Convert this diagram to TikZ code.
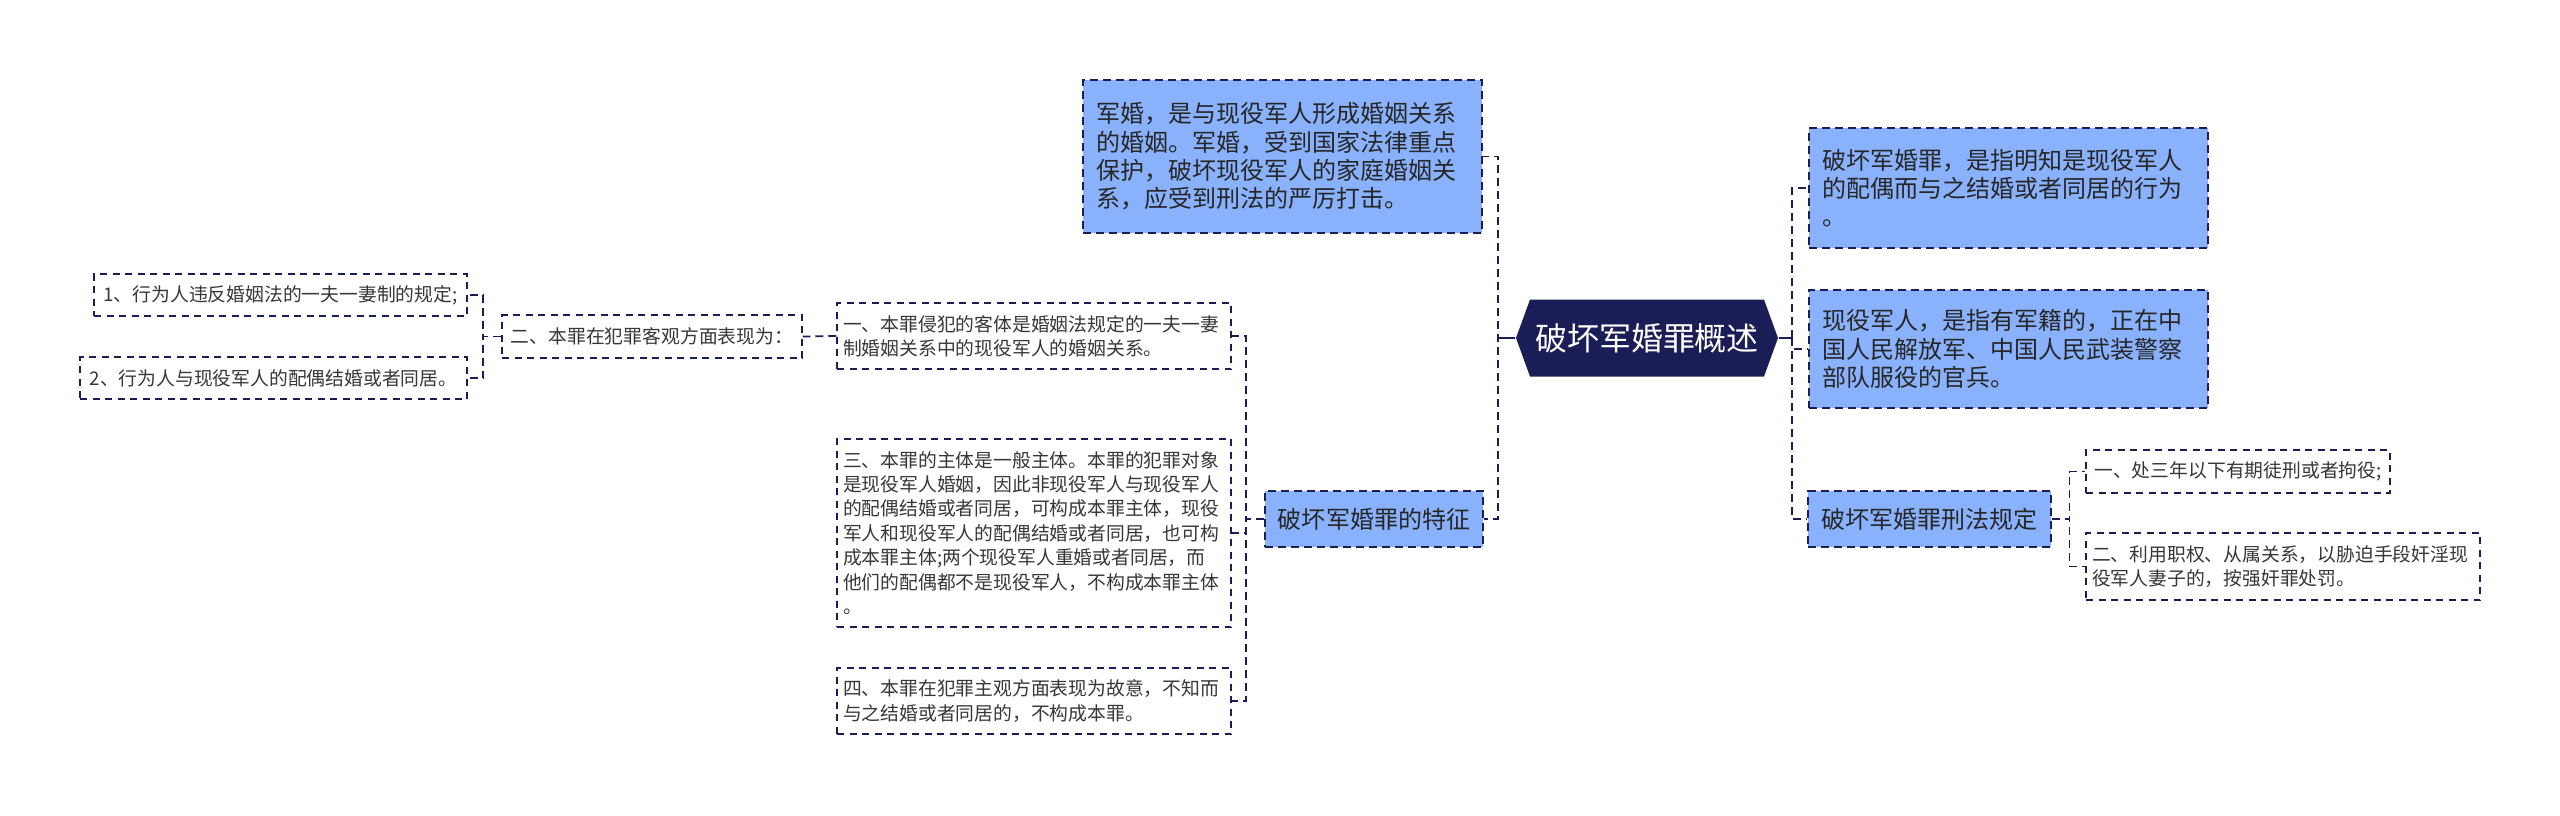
\documentclass[tikz,border=0pt]{standalone}
\usepackage{fontspec}
\newfontfamily\cjk{Noto Sans CJK SC}
\usetikzlibrary{shapes.symbols}
\definecolor{cnavy}{RGB}{27,29,86}
\definecolor{cbluefill}{RGB}{138,178,252}
\definecolor{ctext}{RGB}{38,38,38}
\definecolor{cleaf}{RGB}{55,55,55}

\begin{document}
\begin{tikzpicture}[
  x=0.1mm,y=-0.1mm,
  rootnode/.style={signal,signal to=east and west,signal pointer angle=140,
    fill=cnavy,text=white,minimum width=26.2mm,minimum height=7.7mm,inner sep=0pt,
    font={\cjk\fontsize{9.1pt}{11pt}\selectfont}},
  topic/.style={draw=cnavy,fill=cbluefill,line width=0.2mm,
    dash pattern=on 0.8mm off 0.5mm,text=ctext,align=left,inner xsep=1.3mm,inner ysep=0pt,
    font={\cjk\fontsize{6.83pt}{8.05pt}\selectfont}},
  leaf/.style={draw=cnavy,fill=white,line width=0.15mm,
    dash pattern=on 0.7mm off 0.55mm,text=cleaf,align=left,inner xsep=0.6mm,inner ysep=0pt,
    font={\cjk\fontsize{5.35pt}{6.94pt}\selectfont}},
  link/.style={draw=cnavy,line width=0.18mm,dash pattern=on 0.8mm off 0.5mm},
  stub/.style={draw=cnavy,line width=0.25mm},
]
\useasboundingbox (0,0) rectangle (2560,815);

% ===== ROOT =====
\node[rootnode] (root) at (1647,338) {破坏军婚罪概述};

% ===== LEFT BRANCHES =====
\node[topic,text width=37.3mm,minimum width=39.9mm,minimum height=15.3mm] (junhun) at (1282.5,156.5)
  {军婚，是与现役军人形成婚姻关系\\的婚姻。军婚，受到国家法律重点\\保护，破坏现役军人的家庭婚姻关\\系，应受到刑法的严厉打击。};
\node[topic,minimum width=21.6mm,minimum height=5.6mm] (tezheng) at (1374,519) {破坏军婚罪的特征};

\node[leaf,text width=38.2mm,minimum width=39.4mm,minimum height=6.6mm] (keti) at (1034,336)
  {一、本罪侵犯的客体是婚姻法规定的一夫一妻\\制婚姻关系中的现役军人的婚姻关系。};
\node[leaf,text width=38.2mm,minimum width=39.4mm,minimum height=18.8mm] (zhuti) at (1034,533)
  {三、本罪的主体是一般主体。本罪的犯罪对象\\是现役军人婚姻，因此非现役军人与现役军人\\的配偶结婚或者同居，可构成本罪主体，现役\\军人和现役军人的配偶结婚或者同居，也可构\\成本罪主体;两个现役军人重婚或者同居，而\\他们的配偶都不是现役军人，不构成本罪主体\\。};
\node[leaf,text width=38.2mm,minimum width=39.4mm,minimum height=6.6mm] (zhuguan) at (1034,701)
  {四、本罪在犯罪主观方面表现为故意，不知而\\与之结婚或者同居的，不构成本罪。};

\node[leaf,minimum width=30mm,minimum height=4.3mm] (keguan) at (652,336.5) {二、本罪在犯罪客观方面表现为：};
\node[leaf,minimum width=37.3mm,minimum height=4.2mm] (yifu) at (280.5,295) {1、行为人违反婚姻法的一夫一妻制的规定;};
\node[leaf,minimum width=38.7mm,minimum height=4.2mm] (peiou) at (273.5,378) {2、行为人与现役军人的配偶结婚或者同居。};

% ===== RIGHT BRANCHES =====
\node[topic,text width=37.3mm,minimum width=39.9mm,minimum height=12mm] (dingyi) at (2008.5,188)
  {破坏军婚罪，是指明知是现役军人\\的配偶而与之结婚或者同居的行为\\。};
\node[topic,text width=37.3mm,minimum width=39.9mm,minimum height=11.8mm] (junren) at (2008.5,349)
  {现役军人，是指有军籍的，正在中\\国人民解放军、中国人民武装警察\\部队服役的官兵。};
\node[topic,minimum width=24.1mm,minimum height=5.6mm] (xingfa) at (1929.5,519) {破坏军婚罪刑法规定};

\node[leaf,minimum width=30.4mm,minimum height=4.3mm] (xing1) at (2238,471.5) {一、处三年以下有期徒刑或者拘役;};
\node[leaf,text width=38.2mm,minimum width=39.4mm,minimum height=6.7mm] (xing2) at (2283,566.5)
  {二、利用职权、从属关系，以胁迫手段奸淫现\\役军人妻子的，按强奸罪处罚。};

% ===== connectors =====
\draw[link] (root.west) -- ++(-17,0) |- (junhun.east);
\draw[link] (root.west) -- ++(-17,0) |- (tezheng.east);
\draw[stub] (root.west) -- ++(-17,0);
\draw[link] (root.east) -- ++(13,0) |- (dingyi.west);
\draw[link] (root.east) -- ++(13,0) |- (junren.west);
\draw[link] (root.east) -- ++(13,0) |- (xingfa.west);
\draw[stub] (root.east) -- ++(13,0);

\draw[link] (tezheng.west) -- ++(-18,0) |- (keti.east);
\draw[link] (tezheng.west) -- ++(-18,0) |- (zhuti.east);
\draw[link] (tezheng.west) -- ++(-18,0) |- (zhuguan.east);
\draw[link] (keti.west) -- (keguan.east);
\draw[link] (keguan.west) -- ++(-18,0) |- (yifu.east);
\draw[link] (keguan.west) -- ++(-18,0) |- (peiou.east);

\draw[link] (xingfa.east) -- ++(18,0) |- (xing1.west);
\draw[link] (xingfa.east) -- ++(18,0) |- (xing2.west);

\end{tikzpicture}
\end{document}
